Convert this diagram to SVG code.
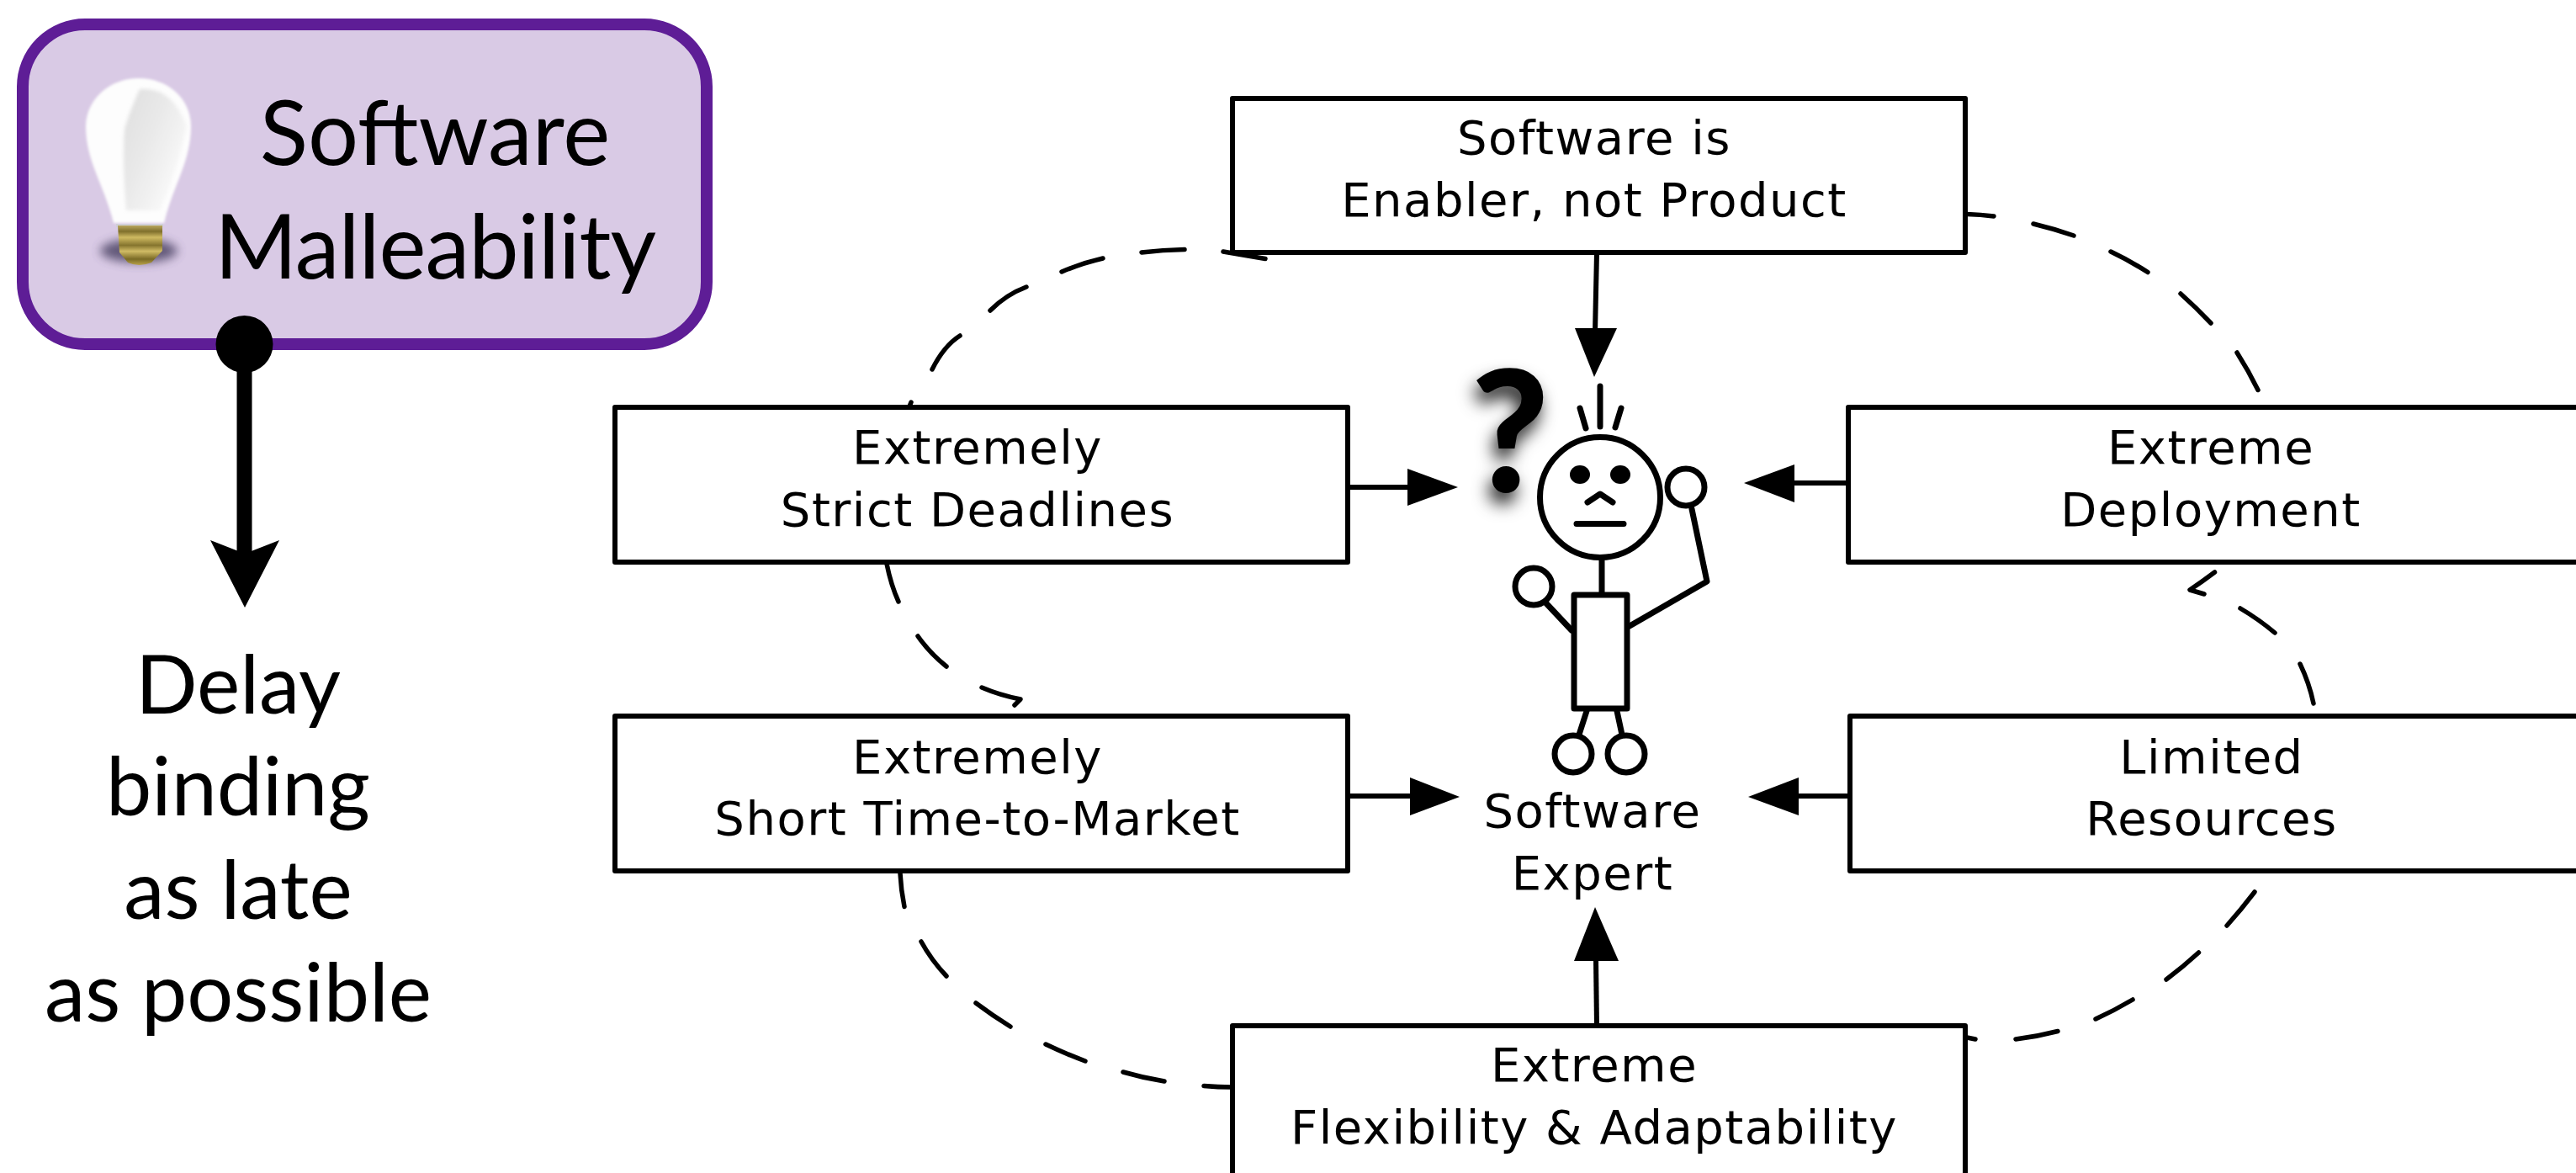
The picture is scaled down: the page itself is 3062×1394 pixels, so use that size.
<svg xmlns="http://www.w3.org/2000/svg" width="3062" height="1394" viewBox="0 0 3062 1394">
<style>
.box{fill:#fff;stroke:#000;stroke-width:6;stroke-linejoin:round}
.bt{font-family:"DejaVu Sans",sans-serif;font-size:56px;letter-spacing:1.5px;text-anchor:middle;fill:#000}
.gt{font-family:"Lato","Open Sans",sans-serif;text-anchor:middle;fill:#000}
.ar{fill:none;stroke:#000;stroke-width:6}
.hd{fill:#000;stroke:none}
.da{fill:none;stroke:#000;stroke-width:5.5;stroke-linecap:round;stroke-linejoin:round}
.st{fill:none;stroke:#000;stroke-width:7;stroke-linecap:round;stroke-linejoin:round}
.sf{fill:#fff;stroke:#000;stroke-width:7;stroke-linejoin:round}
</style>
<defs>
<filter id="sh" x="-80%" y="-40%" width="260%" height="180%"><feDropShadow dx="-4" dy="13" stdDeviation="10" flood-color="#000" flood-opacity="0.85"/></filter>
<filter id="b4" x="-40%" y="-60%" width="180%" height="220%"><feGaussianBlur stdDeviation="6"/></filter>
<filter id="b1" x="-20%" y="-20%" width="140%" height="140%"><feGaussianBlur stdDeviation="1.5"/></filter>
<filter id="b2" x="-20%" y="-20%" width="140%" height="140%"><feGaussianBlur stdDeviation="2"/></filter>
<linearGradient id="gold" x1="0" y1="0" x2="0" y2="1"><stop offset="0" stop-color="#b9a75e"/><stop offset="0.15" stop-color="#7f6f2c"/><stop offset="0.3" stop-color="#cfba62"/><stop offset="0.5" stop-color="#86752e"/><stop offset="0.65" stop-color="#d0bb65"/><stop offset="0.85" stop-color="#7a6a25"/><stop offset="1" stop-color="#b9a24a"/></linearGradient>
<linearGradient id="glass" x1="0" y1="0" x2="1" y2="0.8"><stop offset="0" stop-color="#dedede"/><stop offset="0.45" stop-color="#e9e9e9"/><stop offset="1" stop-color="#fdfdfd"/></linearGradient>
</defs>
<g id="connectors">
<path class="da" d="M1083 478L1081 483M1108 439Q1122 411 1141 399M1177 369Q1196 350 1220 341M1262 323Q1285 313 1311 307M1357 300Q1382 297 1408 296.5M1454 299L1504 307.5"/>
<path class="da" d="M1054 670Q1059 695 1068 715M1091 756Q1105 776 1125 792M1167 817Q1188 826 1213 831L1206 838"/>
<path class="da" d="M1070 1038Q1071 1058 1075 1077.5M1095 1119Q1107 1141 1125 1160M1160 1192Q1180 1207 1201 1220M1243 1241Q1266 1252 1290 1261M1335 1274Q1359 1281 1384 1285M1431 1290.5Q1448 1292 1464 1292"/>
<path class="da" d="M2338 254.5Q2354 255 2370 257M2417 266Q2442 272 2465 280M2509 299Q2532 310 2553 323.5M2592 349Q2611 366 2628 384M2659 419Q2673 441 2684 463.5"/>
<path class="da" d="M2632.5 680Q2618 691 2603 701L2620 706M2663 723Q2685 736 2704 752M2734 789Q2745 812 2750 836"/>
<path class="da" d="M2680 1060Q2664 1081 2647 1100M2613.5 1132Q2595 1149 2575 1164M2535 1188Q2513 1201 2491 1211M2446 1225.5Q2421 1232 2396 1235M2348 1235L2338 1233"/>
<path class="ar" d="M1898 300L1896 395"/><path class="hd" d="M1895 448L1872 390H1922Z"/>
<path class="ar" d="M1602 579H1675"/><path class="hd" d="M1733 579L1673 557V601Z"/>
<path class="ar" d="M2197 574H2131"/><path class="hd" d="M2073 574L2133 552V597Z"/>
<path class="ar" d="M1602 946H1678"/><path class="hd" d="M1735 947L1676 924V969Z"/>
<path class="ar" d="M2199 946H2136"/><path class="hd" d="M2078 947L2138 924V969Z"/>
<path class="ar" d="M1898 1219L1897 1140"/><path class="hd" d="M1896 1078L1871 1142H1924Z"/>
<path d="M290.5 409V660" fill="none" stroke="#000" stroke-width="18"/>
<path class="hd" d="M291 722L250 642L291 658L332 642Z"/>
</g>
<g id="malleability">
<rect x="27" y="29" width="813" height="380" rx="74" ry="74" fill="#d9cae5" stroke="#5e1d96" stroke-width="14"/>
<g id="bulb">
<ellipse cx="165" cy="298" rx="46" ry="14" fill="#4e4466" filter="url(#b4)" opacity="0.85"/>
<path d="M165 93C132 93 103 116 102 150C102 192 124 220 135 265H195C206 220 227 192 227 150C227 116 198 93 165 93Z" fill="#fdfdfd" filter="url(#b1)"/>
<path d="M166 106Q204 102 222 150Q210 205 190 250H150Q145 190 148 153Q155 130 166 106Z" fill="url(#glass)" filter="url(#b2)"/>
<path d="M138 266H194V270H138Z" fill="#d0d0d8"/>
<path d="M140 268H193V298L180 312Q165 318 152 312L142 300Z" fill="url(#gold)"/>
</g>
<text class="gt" x="517" y="196" font-size="106">Software</text>
<text class="gt" x="517" y="331" font-size="106" letter-spacing="-1">Malleability</text>
<circle cx="290.5" cy="409" r="34" fill="#000"/>
</g>
<g id="delay-text">
<text class="gt" x="283" y="848" font-size="97">Delay</text>
<text class="gt" x="283" y="969" font-size="97">binding</text>
<text class="gt" x="283" y="1092" font-size="97">as late</text>
<text class="gt" x="283" y="1214" font-size="97">as possible</text>
</g>
<g id="enabler"><rect class="box" x="1465" y="117" width="871" height="183"/><text class="bt" x="1895" y="183">Software is</text><text class="bt" x="1895" y="257">Enabler, not Product</text></g>
<g id="deadlines"><rect class="box" x="731" y="484" width="871" height="184"/><text class="bt" x="1162" y="551">Extremely</text><text class="bt" x="1162" y="625">Strict Deadlines</text></g>
<g id="deployment"><rect class="box" x="2197" y="484" width="880" height="184"/><text class="bt" x="2628" y="551">Extreme</text><text class="bt" x="2628" y="625">Deployment</text></g>
<g id="time-to-market"><rect class="box" x="731" y="851" width="871" height="184"/><text class="bt" x="1162" y="919">Extremely</text><text class="bt" x="1162" y="992">Short Time-to-Market</text></g>
<g id="resources"><rect class="box" x="2199" y="851" width="880" height="184"/><text class="bt" x="2629" y="919">Limited</text><text class="bt" x="2629" y="992">Resources</text></g>
<g id="flexibility"><rect class="box" x="1465" y="1219" width="871" height="200"/><text class="bt" x="1895" y="1285">Extreme</text><text class="bt" x="1895" y="1359">Flexibility &amp; Adaptability</text></g>
<g id="expert">
<text x="1795" y="585" font-family="Lato, sans-serif" font-weight="900" font-size="200" text-anchor="middle" filter="url(#sh)">?</text>
<path class="st" d="M1904 666V705M1837 716L1868 749M2011 605L2029 691L1937 744M1886 845L1877 873M1922 845L1928 873M1902 459V507M1878 485L1885 509M1927 485L1920 508"/>
<circle class="sf" cx="1902" cy="591" r="71.5"/>
<path class="st" d="M1874 622.6H1930M1887 597L1902 587L1917 597"/>
<ellipse cx="1878" cy="564" rx="12" ry="11"/><ellipse cx="1926" cy="564" rx="12" ry="11"/>
<rect class="sf" x="1871" y="707" width="63" height="135"/>
<circle class="sf" cx="1823" cy="697" r="22"/><circle class="sf" cx="2004" cy="579" r="22"/>
<circle class="sf" cx="1870" cy="896" r="22"/><circle class="sf" cx="1933" cy="896" r="22"/>
<text class="bt" x="1893" y="983">Software</text><text class="bt" x="1893" y="1057">Expert</text>
</g>
</svg>
